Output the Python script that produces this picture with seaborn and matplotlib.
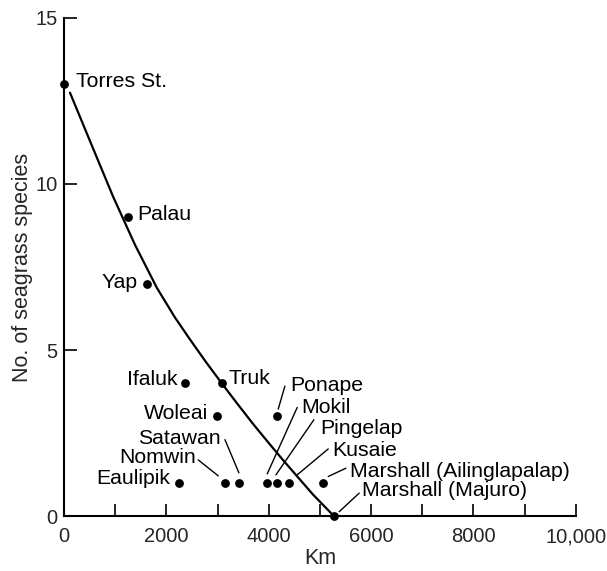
import matplotlib
matplotlib.use("Agg")
import matplotlib.pyplot as plt
import seaborn as sns
import pandas as pd

# Islands: distance (km) and number of seagrass species
islands = ["Torres St.", "Palau", "Yap", "Ifaluk", "Eaulipik", "Woleai", "Truk",
           "Nomwin", "Satawan", "Mokil", "Pingelap", "Ponape", "Kusaie",
           "Marshall (Ailinglapalap)", "Marshall (Majuro)"]
distance_km = [0, 1250, 1620, 2360, 2250, 2990, 3090,
               3150, 3420, 3960, 4170, 4170, 4400, 5060, 5280]
species = [13, 9, 7, 4, 1, 3, 4, 1, 1, 1, 1, 3, 1, 1, 0]

# Fitted decline curve (sampled along the drawn line)
curve_km = [117, 547, 957, 1387, 1816, 2168, 2461, 2773, 3086,
            3398, 3691, 3984, 4277, 4570, 4863, 5254]
curve_species = [12.75, 11.15, 9.63, 8.17, 6.87, 5.98, 5.32, 4.64, 3.99,
                 3.36, 2.78, 2.23, 1.69, 1.17, 0.65, 0.03]

x_ticks = [0, 2000, 4000, 6000, 8000, 10000]
x_ticklabels = ["0", "2000", "4000", "6000", "8000", "10,000"]
y_ticks = [0, 5, 10, 15]

sns.set_style("ticks")
plt.rcParams["font.family"] = ["Liberation Sans", "DejaVu Sans"]

points = pd.DataFrame({"km": distance_km, "species": species, "island": islands})
curve = pd.DataFrame({"km": curve_km, "species": curve_species})

fig = plt.figure(figsize=(6.07, 5.71), dpi=100)
ax = fig.add_axes([0.1054, 0.0963, 0.8432, 0.8722])

sns.lineplot(data=curve, x="km", y="species", ax=ax, color="black",
             linewidth=1.6, sort=False, estimator=None)
sns.scatterplot(data=points, x="km", y="species", ax=ax, color="black",
                s=40, edgecolor="black", linewidth=0, zorder=5, clip_on=False)

fs_tick = 14.5
fs_label = 15.3
fs_axis = 15.5
# Labels: (text x, text y, ha, leader end or None)
label_specs = {
    "Torres St.": (230, 13.1, "left", None),
    "Palau": (1430, 9.09, "left", None),
    "Yap": (1430, 7.04, "right", None),
    "Ifaluk": (2230, 4.1, "right", None),
    "Truk": (3220, 4.14, "left", None),
    "Woleai": (2810, 3.08, "right", None),
    "Satawan": (3060, 2.33, "right", (3418, 1.30)),
    "Nomwin": (2580, 1.75, "right", (3014, 1.21)),
    "Eaulipik": (2070, 1.12, "right", None),
    "Ponape": (4430, 3.93, "left", (4186, 3.22)),
    "Mokil": (4640, 3.27, "left", (3971, 1.27)),
    "Pingelap": (5010, 2.65, "left", (4141, 1.24)),
    "Kusaie": (5240, 1.97, "left", (4557, 1.24)),
    "Marshall (Ailinglapalap)": (5590, 1.34, "left", (5163, 1.19)),
    "Marshall (Majuro)": (5830, 0.76, "left", (5377, 0.13)),
}
leader_starts = {
    "Satawan": (3145, 2.30),
    "Nomwin": (2623, 1.69),
    "Ponape": (4316, 3.91),
    "Mokil": (4557, 3.27),
    "Pingelap": (4883, 2.90),
    "Kusaie": (5163, 2.02),
    "Marshall (Ailinglapalap)": (5508, 1.44),
    "Marshall (Majuro)": (5768, 0.69),
}
for name, (tx, ty, ha, end) in label_specs.items():
    ax.text(tx, ty, name, ha=ha, va="center", fontsize=fs_label, color="black")
    if end is not None:
        sx, sy = leader_starts[name]
        ax.plot([sx, end[0]], [sy, end[1]], color="black", linewidth=1.0)

ax.set_xlim(0, 10000)
ax.set_ylim(0, 15)
ax.set_xticks(x_ticks)
ax.set_xticklabels(x_ticklabels)
ax.set_xticks(range(1000, 10000, 2000), minor=True)
ax.set_yticks(y_ticks)
ax.tick_params(axis="both", which="both", direction="in", length=9, width=1.2,
               labelsize=fs_tick, color="black")
ax.tick_params(axis="x", which="both", pad=8)
ax.tick_params(axis="y", which="both", pad=4.5)
ax.set_xlabel("Km", fontsize=fs_axis, labelpad=1)
ax.set_ylabel("No. of seagrass species", fontsize=fs_axis, labelpad=2)
sns.despine(ax=ax)
for sp in ("left", "bottom"):
    ax.spines[sp].set_linewidth(1.5)
    ax.spines[sp].set_color("black")

fig.savefig("out.png", dpi=100)
